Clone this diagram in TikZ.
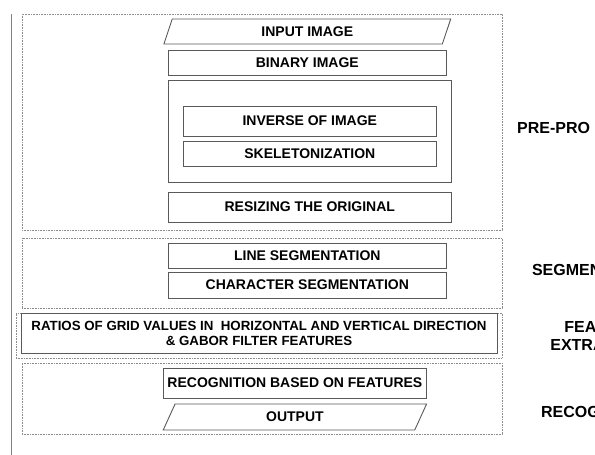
\documentclass[tikz,border=0pt]{standalone}
\usepackage{fontspec}
\setmainfont{Liberation Sans}
\usetikzlibrary{shapes.geometric}

\begin{document}
\begin{tikzpicture}
    [x=1pt, y=-1pt,
    stage/.style={rectangle, draw=black!45, densely dotted, line width=0.6pt, inner sep=0pt},
    block/.style={rectangle, draw=black!65, line width=0.9pt, inner sep=0pt, font=\fontsize{14}{16}\selectfont\bfseries},
    io/.style={block, trapezium, trapezium left angle=74, trapezium right angle=106, trapezium stretches=true},
    phase/.style={anchor=west, font=\fontsize{16}{19}\selectfont\bfseries}]
    \useasboundingbox (0,0) rectangle (595,455);
    % dotted frames of the stages
    \foreach \n/\x/\y/\w/\h in {pre/262/122/480/216,seg/262/273/480/70,feat/259/335.5/486/45,rec/262/398.5/480/71}{
        \node(\n)[stage, minimum width=\w, minimum height=\h] at (\x,\y) {};
    }
    % boxes
    \foreach \n/\x/\y/\w/\h/\t in {binary/307.3/62.5/278.7/25/BINARY IMAGE,morph/309.8/131/283.7/102/,inverse/309.8/121/253.7/30/INVERSE OF IMAGE,skel/309.8/153.5/253.7/25/SKELETONIZATION,resize/309.8/207/283.7/30/RESIZING THE ORIGINAL,line/307.3/255.5/278.7/25/LINE SEGMENTATION,char/307.3/285/278.7/26/CHARACTER SEGMENTATION,recog/294.9/383/263.7/30/RECOGNITION BASED ON FEATURES}{
        \node(\n)[block, minimum width=\w, minimum height=\h] at (\x,\y) {\t};
    }
    \node(ratio)[block, minimum width=476, minimum height=40, align=center, font=\fontsize{13.3}{15}\selectfont\bfseries] at (259,333) {RATIOS OF GRID VALUES IN~ HORIZONTAL AND VERTICAL DIRECTION\\ \& GABOR FILTER FEATURES};
    \node(input)[io, minimum width=288.7, minimum height=25] at (307.3,31.5) {INPUT IMAGE};
    \node(output)[io, minimum width=263.7, minimum height=26] at (294.9,417) {OUTPUT};
    % stage names
    \node(preL)[phase] at (513.7,128) {PRE-PRO};
    \node(segL)[phase] at (528.5,270) {SEGMEN};
    \node(featL)[phase] at (560.8,326.7) {FEAT};
    \node(extrL)[phase] at (546.8,345) {EXTRA};
    \node(recL)[phase] at (537.5,411.7) {RECOG};
    % margin line
    \coordinate (mtop) at (11.5,14);
    \coordinate (mbot) at (11.5,455);
    \draw[black!50, line width=1.2pt] (mtop) -- (mbot);
\end{tikzpicture}
\end{document}
